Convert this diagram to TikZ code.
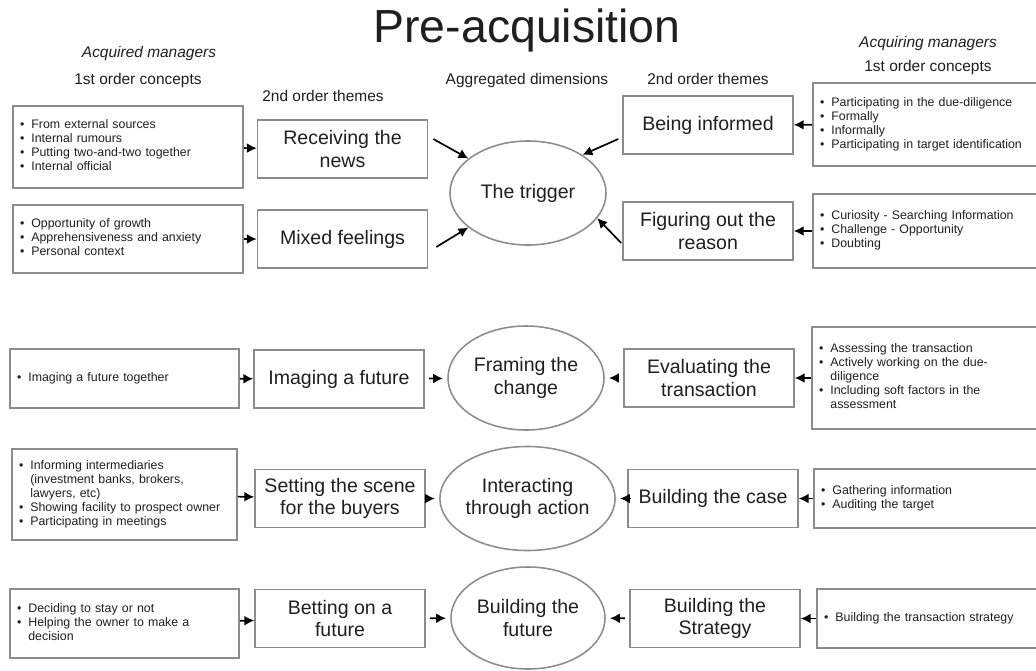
\documentclass[tikz,border=0pt]{standalone}
\usepackage{fontspec}
\setmainfont{Liberation Sans}
\usetikzlibrary{shapes.geometric,arrows.meta}
\definecolor{boxgray}{gray}{0.55}
\definecolor{ink}{gray}{0.12}
\newcommand{\blist}[1]{\noindent\begin{tabular}{@{\hspace{5pt}}l@{\hspace{5pt}}l@{}}#1\end{tabular}}

\tikzset{
  concept/.style={draw=boxgray, line width=1.1pt, inner xsep=0pt, inner ysep=2pt, align=left, text=ink, font=\fontsize{8.8}{10}\selectfont},
  theme/.style={draw=boxgray, line width=1.1pt, minimum width=4.25cm, minimum height=1.45cm, align=center, text=ink, font=\fontsize{13.9}{16}\selectfont},
  dim/.style={ellipse, draw=boxgray, line width=1.1pt, minimum width=3.9cm, minimum height=2.6cm, inner sep=0pt, align=center, text=ink, font=\fontsize{13.9}{16}\selectfont},
  head/.style={anchor=base, text=ink, font=\fontsize{11}{13}\selectfont},
  arr/.style={line width=1.2pt, -{Latex[length=7pt,width=7pt]}},
  gap/.style={shorten <=3pt, shorten >=3pt}
}

\begin{document}
\begin{tikzpicture}[x=0.025cm, y=-0.025cm]
\useasboundingbox (0,0) rectangle (1036,670);
\clip (0,0) rectangle (1036,670);

% headings
\node[anchor=base, text=ink, font=\fontsize{33}{36}\selectfont] (title) at (527,43) {Pre-acquisition};
\node[head, font=\fontsize{11}{13}\selectfont\itshape] (acquired) at (149,58) {Acquired managers};
\node[head] (firstL) at (138,85) {1st order concepts};
\node[head] (secondL) at (323,101) {2nd order themes};
\node[head] (aggr) at (527,85) {Aggregated dimensions};
\node[head] (secondR) at (708,85) {2nd order themes};
\node[head, font=\fontsize{11}{13}\selectfont\itshape] (acquiring) at (928,48) {Acquiring managers};
\node[head] (firstR) at (928,72) {1st order concepts};

% the trigger
\node[concept, text width=5.75cm, minimum height=2.05cm] (sources) at (128,147) {\blist{%
  \textbullet & From external sources\\
  \textbullet & Internal rumours\\
  \textbullet & Putting two-and-two together\\
  \textbullet & Internal official}};
\node[concept, text width=5.75cm, minimum height=1.7cm] (growth) at (128,239) {\blist{%
  \textbullet & Opportunity of growth\\
  \textbullet & Apprehensiveness and anxiety\\
  \textbullet & Personal context}};
\node[theme] (news) at (342.5,149) {Receiving the\\news};
\node[theme] (mixed) at (342.5,239) {Mixed feelings};
\node[dim] (trigger) at (528,193) {The trigger};
\node[theme] (informed) at (708,125) {Being informed};
\node[theme] (reason) at (708,231) {Figuring out the\\reason};
\node[concept, text width=6.425cm, minimum height=2.075cm] (diligence) at (941.5,124.5) {\blist{%
  \textbullet & Participating in the due-diligence\\
  \textbullet & Formally\\
  \textbullet & Informally\\
  \textbullet & Participating in target identification}};
\node[concept, text width=6.425cm, minimum height=1.85cm] (curiosity) at (941.5,231) {\blist{%
  \textbullet & Curiosity - Searching Information\\
  \textbullet & Challenge - Opportunity\\
  \textbullet & Doubting}};

\draw[arr] (sources) -- (news);
\draw[arr] (growth) -- (mixed);
\draw[arr] ([shift={(5,-10)}]news.east) -- (trigger.150);
\draw[arr] ([shift={(8,8)}]mixed.east) -- (trigger.210);
\draw[arr] (diligence) -- (informed);
\draw[arr] (curiosity) -- (reason);
\draw[arr] ([shift={(-4,14)}]informed.west) -- (trigger.35);
\draw[arr] ([shift={(-1,12)}]reason.west) -- (trigger.340);

% framing the change
\node[concept, text width=5.725cm, minimum height=1.475cm] (together) at (124.5,378.5) {\blist{%
  \textbullet & Imaging a future together}};
\node[theme] (imaging) at (339,379) {Imaging a future};
\node[dim] (framing) at (526,378) {Framing the\\change};
\node[theme] (evaluating) at (709,378) {Evaluating the\\transaction};
\node[concept, text width=6.425cm, minimum height=2.55cm] (assessing) at (940.5,378) {\blist{%
  \textbullet & Assessing the transaction\\
  \textbullet & Actively working on the due-\\
              & diligence\\
  \textbullet & Including soft factors in the\\
              & assessment}};

\draw[arr] (together) -- (imaging);
\draw[arr, gap] (imaging) -- (framing);
\draw[arr] (assessing) -- (evaluating);
\draw[arr, gap] (evaluating) -- (framing);

% interacting through action
\node[concept, text width=5.625cm, minimum height=2.275cm] (intermed) at (124.5,494.5) {\blist{%
  \textbullet & Informing intermediaries\\
              & (investment banks, brokers,\\
              & lawyers, etc)\\
  \textbullet & Showing facility to prospect owner\\
  \textbullet & Participating in meetings}};
\node[theme] (scene) at (340,498.5) {Setting the scene\\for the buyers};
\node[dim] (interacting) at (527.5,498.5) {Interacting\\through action};
\node[theme] (case) at (713,498.5) {Building the case};
\node[concept, text width=6.4cm, minimum height=1.475cm] (gathering) at (942,498.5) {\blist{%
  \textbullet & Gathering information\\
  \textbullet & Auditing the target}};

\draw[arr] (intermed) -- (scene);
\draw[arr, gap] (scene) -- (interacting);
\draw[arr] (gathering) -- (case);
\draw[arr, gap] (case) -- (interacting);

% building the future
\node[concept, text width=5.725cm, minimum height=1.725cm] (deciding) at (124.5,623.5) {\blist{%
  \textbullet & Deciding to stay or not\\
  \textbullet & Helping the owner to make a\\
              & decision}};
\node[theme] (betting) at (340,618.5) {Betting on a\\future};
\node[dim, minimum width=3.85cm, minimum height=2.55cm] (future) at (528,618) {Building the\\future};
\node[theme] (strategy) at (715,618.5) {Building the\\Strategy};
\node[concept, text width=6.325cm, minimum height=1.475cm] (transaction) at (943.5,618.5) {\blist{%
  \textbullet & Building the transaction strategy}};

\draw[arr] (deciding) -- (betting);
\draw[arr, gap] (betting) -- (future);
\draw[arr] (transaction) -- (strategy);
\draw[arr, gap] (strategy) -- (future);
\end{tikzpicture}
\end{document}
